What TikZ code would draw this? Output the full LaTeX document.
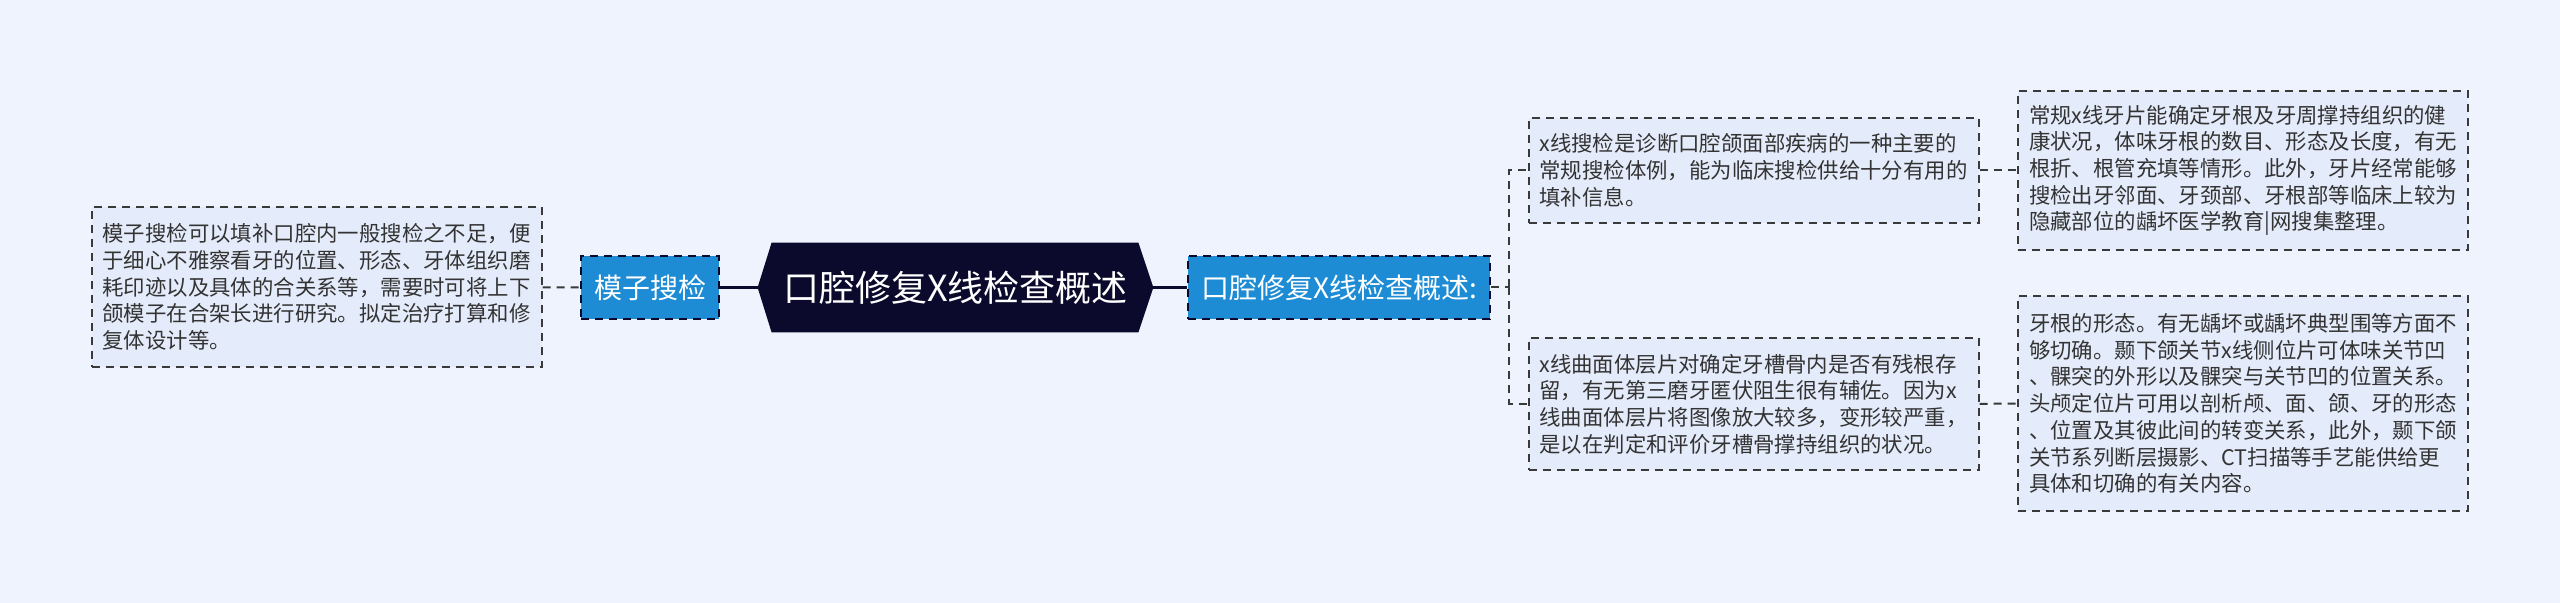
\documentclass[tikz,border=0pt]{standalone}
\usepackage{fontspec}
\setmainfont{Noto Sans CJK SC}
\usetikzlibrary{backgrounds}
\definecolor{bgblue}{HTML}{EEF3FD}
\definecolor{leaffill}{HTML}{E4EBFA}
\definecolor{topicblue}{HTML}{1E8CD4}
\definecolor{rootnavy}{HTML}{0C0A2C}
\definecolor{linegray}{HTML}{3A3A3A}
\definecolor{textgray}{HTML}{333333}
\tikzset{
  leafbox/.style={draw=linegray, fill=leaffill, line width=1pt, dash pattern=on 4pt off 3pt,
    text=textgray, align=left, text width=214pt, inner xsep=5.5pt, inner ysep=0pt,
    font=\fontsize{10.7pt}{13.35pt}\selectfont},
  topicbox/.style={draw=rootnavy, fill=topicblue, line width=1pt, dash pattern=on 4pt off 3pt,
    text=white, inner xsep=6.5pt, inner ysep=0pt, minimum height=31.5pt,
    font=\fontsize{14pt}{16pt}\selectfont},
  rootbox/.style={text=white, minimum width=197.5pt, minimum height=44.5pt, inner sep=0pt,
    font=\fontsize{18pt}{20pt}\selectfont},
  thinlink/.style={draw=linegray, line width=1pt, dash pattern=on 4pt off 3pt},
  thicklink/.style={draw=rootnavy, line width=1.5pt}
}
\begin{document}
\begin{tikzpicture}[x=0.5pt, y=-0.5pt]
    \node[rootbox] (root) at (955.5,287.5) {口腔修复X线检查概述};
    \begin{scope}[on background layer]
        \fill[bgblue] (0,0) rectangle (2560,603);
        \fill[rootnavy] (root.west) -- ([xshift=7pt]root.north west) -- ([xshift=-7.5pt]root.north east)
            -- (root.east) -- ([xshift=-7.5pt]root.south east) -- ([xshift=7pt]root.south west) -- cycle;
    \end{scope}

    \node[topicbox] (mozi) at (650,287.5) {模子搜检};
    \node[topicbox] (summary) at (1339,287.5) {口腔修复X线检查概述:};

    \node[leafbox, minimum height=80pt] (leafmozi) at (316.5,287) {模子搜检可以填补口腔内一般搜检之不足，便\\于细心不雅察看牙的位置、形态、牙体组织磨\\耗印迹以及具体的合关系等，需要时可将上下\\颌模子在合架长进行研究。拟定治疗打算和修\\复体设计等。};

    \node[leafbox, minimum height=52.5pt] (xray) at (1753.5,170.5) {x线搜检是诊断口腔颌面部疾病的一种主要的\\常规搜检体例，能为临床搜检供给十分有用的\\填补信息。};
    \node[leafbox, minimum height=66pt] (curve) at (1753.5,404) {x线曲面体层片对确定牙槽骨内是否有残根存\\留，有无第三磨牙匿伏阻生很有辅佐。因为x\\线曲面体层片将图像放大较多，变形较严重，\\是以在判定和评价牙槽骨撑持组织的状况。};

    \node[leafbox, minimum height=79.5pt] (film) at (2243,170.5) {常规x线牙片能确定牙根及牙周撑持组织的健\\康状况，体味牙根的数目、形态及长度，有无\\根折、根管充填等情形。此外，牙片经常能够\\搜检出牙邻面、牙颈部、牙根部等临床上较为\\隐藏部位的龋坏医学教育|网搜集整理。};
    \node[leafbox, minimum height=107.5pt] (joint) at (2243,403.5) {牙根的形态。有无龋坏或龋坏典型围等方面不\\够切确。颞下颌关节x线侧位片可体味关节凹\\、髁突的外形以及髁突与关节凹的位置关系。\\头颅定位片可用以剖析颅、面、颌、牙的形态\\、位置及其彼此间的转变关系，此外，颞下颌\\关节系列断层摄影、CT扫描等手艺能供给更\\具体和切确的有关内容。};

    \coordinate (fork) at (1509,287.5);

    \draw[thicklink] (mozi) -- (root);
    \draw[thicklink] (root) -- (summary);
    \draw[thinlink] (leafmozi) -- (mozi);
    \draw[thinlink] (summary) -- (fork);
    \draw[thinlink] (fork) |- (xray.west);
    \draw[thinlink] (fork) |- (curve.west);
    \draw[thinlink] (xray) -- (film);
    \draw[thinlink] (curve) -- (joint);
\end{tikzpicture}
\end{document}
